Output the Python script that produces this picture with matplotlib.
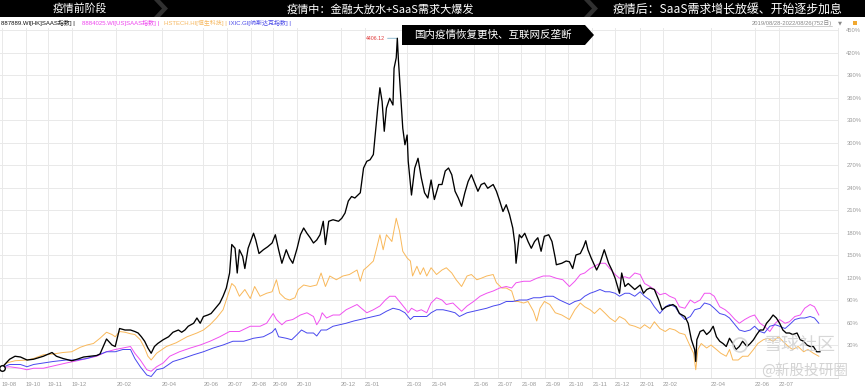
import numpy as np
import matplotlib
matplotlib.use('Agg')
import matplotlib.pyplot as plt
from matplotlib.patches import Polygon, Rectangle, Circle

plt.rcParams['font.family'] = ['Liberation Sans', 'Noto Sans CJK SC', 'DejaVu Sans']

# ---------------- data ----------------
tick_labels = ['19-08', '19-10', '19-11', '19-12', '20-02', '20-04', '20-06', '20-07', '20-08',
               '20-09', '20-10', '20-12', '21-01', '21-03', '21-04', '21-06', '21-07', '21-08',
               '21-09', '21-10', '21-11', '21-12', '22-01', '22-02', '22-04', '22-06', '22-07']
tick_days = [0, 22, 42, 64, 105, 147, 185, 207, 229, 249, 271, 311, 333, 372, 395, 433, 455, 477,
             499, 520, 542, 563, 586, 607, 651, 691, 713]
pct_ticks = [30, 60, 90, 120, 150, 180, 210, 240, 270, 300, 330, 360, 390, 420, 450]

series_names = ['887889.WI[HK]SAAS指数]', '8884025.WI[US]SAAS指数]', 'HSTECH.HI[恒生科技]', 'IXIC.GI[纳斯达克指数]']

black_day = [0, 7, 12, 17, 23, 29, 38, 46, 50, 56,
             64, 69, 75, 81, 87, 90, 96, 101, 104, 108,
             113, 118, 122, 125, 128, 131, 134, 137, 140, 143,
             148, 153, 157, 162, 165, 168, 171, 176, 179, 182,
             185, 189, 192, 196, 200, 203, 206, 209, 211, 214,
             216, 218, 221, 223, 226, 231, 233, 236, 240, 244,
             248, 251, 254, 257,
             261, 264, 267, 271, 274, 277, 280, 283, 286, 289,
             292, 295, 297, 300, 304, 309, 312, 315, 318, 321,
             324, 329, 332, 335, 338, 341, 343, 345, 347, 349,
             351, 353, 356, 359, 360, 362, 363, 364, 366, 368,
             370, 372, 373, 376, 379, 382, 385, 388, 391, 394,
             397, 401, 404, 407, 410, 413, 416, 419, 422, 425,
             428, 431, 434, 437, 440, 443, 446, 451, 454, 457,
             460, 463, 466, 469, 471, 472, 475, 477, 480, 483,
             486, 489, 492, 495, 498, 502, 505, 508, 509, 514,
             518, 521, 524, 527, 531, 534, 536, 538, 541, 546,
             549, 553, 557, 560, 563, 567, 569, 572, 575, 578,
             581, 586, 589, 592, 595, 599, 603, 606, 610, 616,
             619, 622, 627, 630, 633, 636, 637, 638, 641, 644,
             647, 650, 653, 656, 659, 662, 665, 668, 671, 674,
             677, 680, 684, 687, 690, 693, 696, 699, 702, 705,
             708, 711, 714, 717, 720, 723, 726, 730, 733, 736,
             739, 742, 745, 748, 751]
black_pct = [0, 11, 15, 14, 10, 11, 15, 20, 15, 12,
             9, 11, 14, 15, 16, 18, 38, 30, 28, 52,
             50, 50, 48, 46, 41, 35, 26, 19, 28, 32,
             37, 41, 47, 50, 47, 50, 55, 59, 66, 59,
             68, 70, 72, 79, 86, 95, 106, 126, 164, 159,
             126, 157, 148, 132, 159, 179, 170, 152, 157, 161,
             166, 177, 157, 139,
             157, 146, 139, 159, 177, 186, 179, 173, 166, 170,
             177, 195, 164, 195, 197, 195, 199, 206, 222, 228,
             226, 233, 266, 275, 277, 284, 315, 346, 373, 355,
             315, 346, 359, 350, 399, 413, 439, 410, 364, 319,
             297, 310, 275, 230, 266, 279, 253, 233, 226, 250,
             224, 244, 244, 262, 266, 257, 235, 226, 215, 233,
             248, 257, 246, 235, 244, 246, 239, 244, 235, 222,
             208, 217, 204, 186, 164, 139, 177, 173, 179, 168,
             159, 168, 173, 155, 175, 177, 168, 146, 137, 139,
             142, 141, 132, 150, 152, 161, 169, 157, 146, 130,
             139, 157, 139, 130, 119, 99, 126, 108, 112, 108,
             104, 110, 99, 104, 106, 104, 90, 77, 81, 84,
             81, 72, 68, 59, 37, 24, 8, 37, 48, 50,
             44, 48, 55, 41, 35, 32, 28, 39, 32, 24,
             28, 35, 28, 32, 37, 44, 50, 50, 59, 64,
             70, 66, 59, 50, 46, 46, 44, 46, 37, 35,
             30, 28, 28, 21, 21]

orange_day = [0, 4, 12, 23, 29, 38, 47, 56, 64, 72,
              78, 84, 90, 96, 101, 104, 108, 113, 118, 122,
              127, 131, 134, 137, 142, 151, 160, 170, 179, 185,
              191, 197, 203, 208, 211, 214, 218, 223, 228, 232,
              237, 243, 248, 252, 255, 260,
              264, 269, 272, 277, 283, 289, 293, 297, 301, 307,
              313, 319, 326, 329, 332, 336, 341, 344, 347, 350,
              353, 358, 362, 365, 368, 372, 375, 377, 381, 384,
              387, 390, 394, 399, 404, 408, 413, 417, 422, 427,
              431, 436, 440, 445, 451, 454, 459, 463, 468, 471,
              474, 479, 483, 488, 491, 494, 498, 503, 508, 514,
              521, 526, 531, 535, 540, 544, 549, 554, 558, 563,
              567, 572, 576, 581, 586, 590, 595, 599, 604, 609,
              613, 618, 622, 627, 632, 635, 637, 639, 642, 647,
              651, 656, 660, 665, 668, 671, 676, 680, 685, 690,
              694, 699, 703, 708, 713, 717, 722, 726, 731, 736,
              740, 745, 750]
orange_pct = [0, 6, 9, 10, 12, 17, 18, 20, 21, 27,
              30, 32, 39, 47, 44, 41, 48, 47, 45, 44,
              37, 26, 15, 10, 19, 28, 33, 41, 46, 50,
              57, 66, 77, 99, 112, 108, 95, 104, 92, 108,
              95, 99, 101, 117, 99, 92,
              90, 93, 104, 110, 108, 110, 126, 108, 122, 117,
              122, 124, 130, 115, 130, 135, 142, 159, 177, 157,
              177, 168, 199, 182, 155, 146, 142, 122, 135, 124,
              133, 122, 133, 124, 130, 133, 126, 117, 108, 122,
              124, 117, 119, 122, 124, 113, 106, 106, 102, 88,
              88, 86, 88, 75, 62, 79, 88, 84, 73, 70,
              64, 77, 86, 81, 77, 72, 79, 72, 66, 61,
              68, 64, 57, 55, 52, 57, 52, 61, 52, 48,
              52, 50, 46, 44, 28, 19, -3, 24, 32, 26,
              30, 24, 19, 15, 24, 10, 10, 15, 15, 24,
              32, 37, 39, 35, 41, 35, 28, 24, 28, 21,
              24, 19, 15]

magenta_day = [0, 7, 17, 23, 29, 38, 47, 59, 69, 78,
               87, 96, 104, 111, 118, 122, 127, 133, 137, 142,
               148, 154, 163, 173, 182, 191, 200, 209, 218, 228,
               237, 243, 249, 252, 257,
               261, 267, 274, 280, 286, 289, 292, 294, 298, 304,
               310, 316, 323, 326, 330, 335, 341, 347, 352, 356,
               361, 365, 370, 373, 376, 381, 385, 390, 394, 399,
               404, 408, 414, 419, 422, 427, 433, 439, 445, 451,
               457, 463, 468, 472, 479, 485, 491, 497, 503, 509,
               515,
               521, 526, 531, 535, 540, 544, 549, 554, 558, 563,
               567, 572, 576, 581, 586, 590, 595, 599, 604, 609,
               613, 618, 622, 627, 632, 636, 641, 645, 650, 654,
               659, 664, 668, 673, 677, 682, 687, 691, 696, 700,
               705, 710, 714, 719, 723, 728, 733, 737, 742, 746,
               750]
magenta_pct = [0, 1, -1, -3, -1, -1, 2, 6, 9, 12,
               15, 21, 24, 26, 28, 19, 10, -3, -5, 1,
               6, 15, 21, 26, 30, 35, 41, 48, 48, 55,
               55, 59, 72, 64, 57,
               62, 64, 70, 73, 68, 57, 64, 73, 66, 70,
               70, 77, 82, 84, 79, 73, 77, 82, 90, 95,
               95, 88, 79, 73, 79, 75, 77, 73, 86, 93,
               90, 84, 86, 79, 75, 82, 88, 95, 99, 102,
               106, 108, 106, 113, 115, 115, 119, 122, 122, 119,
               117,
               108, 115, 124, 126, 132, 135, 139, 139, 132, 124,
               119, 121, 119, 126, 124, 112, 108, 104, 97, 99,
               95, 92, 81, 79, 90, 86, 90, 99, 99, 95,
               81, 77, 72, 64, 59, 64, 68, 70, 59, 55,
               48, 59, 64, 59, 61, 68, 70, 79, 84, 81,
               70]

blue_day = [0, 7, 17, 23, 29, 38, 47, 59, 69, 78,
            87, 96, 104, 111, 118, 122, 127, 133, 137, 142,
            148, 157, 166, 176, 185, 194, 203, 212, 222, 231,
            240, 248, 251, 254,
            261, 266, 271, 275, 280, 286, 289, 293, 298, 304,
            310, 316, 323, 329, 335, 341, 347, 353, 359, 365,
            370, 375, 378, 384, 390, 394, 399, 405, 411, 416,
            420, 427, 433, 439, 445, 451, 457, 463, 469, 475,
            482, 488, 494, 500, 506, 512, 518,
            521, 526, 531, 535, 540, 544, 549, 554, 558, 563,
            567, 572, 576, 581, 586, 590, 595, 599, 604, 609,
            613, 618, 622, 627, 632, 636, 641, 645, 650, 654,
            659, 664, 668, 673, 677, 682, 687, 691, 696, 700,
            705, 710, 714, 719, 723, 728, 733, 737, 742, 746,
            750]
blue_pct = [0, 4, 4, 1, 4, 6, 8, 10, 10, 12,
            16, 21, 21, 24, 24, 12, 1, -10, -12, -3,
            -1, 8, 12, 17, 21, 26, 30, 35, 35, 39,
            41, 47, 52, 41,
            39, 37, 44, 50, 46, 46, 42, 50, 50, 55,
            57, 59, 62, 64, 66, 68, 70, 75, 79, 77,
            73, 64, 68, 68, 68, 73, 77, 77, 75, 73,
            68, 73, 75, 77, 79, 82, 84, 88, 88, 90,
            90, 93, 93, 95, 95, 90, 86,
            84, 88, 90, 95, 99, 101, 104, 101, 101, 99,
            95, 99, 99, 95, 101, 95, 90, 81, 72, 81,
            84, 81, 72, 64, 68, 77, 79, 86, 84, 79,
            72, 70, 66, 57, 50, 48, 50, 55, 48, 46,
            55, 57, 55, 52, 57, 64, 66, 66, 68, 66,
            59]

peak_label = '4406.12'
date_range = '2019/08/28-2022/08/26(752日)'
phase_titles = ['疫情前阶段', '疫情中：金融大放水+SaaS需求大爆发', '疫情后：SaaS需求增长放缓、开始逐步加息']
note_text = '国内疫情恢复更快、互联网反垄断'

# ---------------- figure ----------------
W, H = 865, 392
fig = plt.figure(figsize=(W / 100, H / 100), dpi=100)
fig.patch.set_facecolor('white')

ax_top, ax_bot, ax_right = 28, 378, 838
ax = fig.add_axes([0, 1 - ax_bot / H, ax_right / W, (ax_bot - ax_top) / H])
ax.set_xlim(-1.8, 767.6)
ax.set_ylim(-14, 452.7)

grid_c = '#e9e9e9'
for d in tick_days:
    ax.axvline(d, color=grid_c, lw=0.7, zorder=0)
for p in [0] + pct_ticks:
    ax.axhline(p, color=grid_c, lw=0.7, zorder=0)

ax.plot(orange_day, orange_pct, color='#f9b85a', lw=0.7, zorder=2)
ax.plot(magenta_day, magenta_pct, color='#f050f0', lw=0.7, zorder=3)
ax.plot(blue_day, blue_pct, color='#4848ee', lw=0.7, zorder=3)
ax.plot(black_day, black_pct, color='#000000', lw=0.95, zorder=4)
ax.plot([black_day[0]], [black_pct[0]], marker='o', ms=4, mfc='white', mec='black', mew=1.0, zorder=5)

# peak annotation
pk = int(np.argmax(black_pct))
ax.annotate(peak_label, xy=(black_day[pk], black_pct[pk]), xytext=(-9, 0), textcoords='offset points',
            ha='right', va='center', fontsize=3.8, color='#e03a3a',
            arrowprops=dict(arrowstyle='-', color='#7fb0c8', lw=0.6, shrinkA=0, shrinkB=0))

ax.set_xticks(tick_days)
ax.set_xticklabels(tick_labels)
for lab in ax.get_xticklabels():
    lab.set_ha('left')
ax.tick_params(axis='x', length=0, pad=3, labelsize=4.2, labelcolor='#9a9a9a')
ax.yaxis.tick_right()
ax.set_yticks(pct_ticks)
ax.set_yticklabels([f'{p}%' for p in pct_ticks])
ax.tick_params(axis='y', length=0, pad=6, labelsize=4.2, labelcolor='#9a9a9a')
for s in ['top', 'left']:
    ax.spines[s].set_visible(False)
ax.spines['bottom'].set_color('#d8d8d8')
ax.spines['right'].set_color('#e9e9e9')
ax.spines['bottom'].set_linewidth(0.7)
ax.spines['right'].set_linewidth(0.7)

# ---------------- overlay (pixel coordinates) ----------------
ov = fig.add_axes([0, 0, 1, 1], zorder=10)
ov.set_xlim(0, W)
ov.set_ylim(H, 0)
ov.axis('off')
ov.patch.set_visible(False)

ov.add_patch(Rectangle((0, 0), W, 17, facecolor='#303030', edgecolor='none'))
segs = [
    [(0, 0), (154, 0), (162, 8.5), (154, 17), (0, 17)],
    [(160, 0), (584, 0), (592, 8.5), (584, 17), (160, 17), (168, 8.5)],
    [(590, 0), (W, 0), (W, 17), (590, 17), (598, 8.5)],
]
for s in segs:
    ov.add_patch(Polygon(s, closed=True, facecolor='black', edgecolor='none'))
cjk = ['Noto Sans CJK SC', 'DejaVu Sans']
ov.text(80, 8.8, phase_titles[0], color='white', fontsize=7.8, ha='center', va='center', family=cjk, weight='medium')
ov.text(380, 8.8, phase_titles[1], color='white', fontsize=8.0, ha='center', va='center', family=cjk, weight='medium')
ov.text(728, 8.8, phase_titles[2], color='white', fontsize=8.6, ha='center', va='center', family=cjk, weight='medium')

# legend row
leg_colors = ['#111111', '#ee44ee', '#f6b860', '#4a4ae8']
leg_x = [1, 82, 164, 229]
for name, c, x in zip(series_names, leg_colors, leg_x):
    ov.text(x, 23, name + ' | ', color=c, fontsize=4.3, ha='left', va='center')
ov.text(832, 23, date_range, color='#888888', fontsize=4.2, ha='right', va='center')
ov.plot([766, 832], [26, 26], color='#aaaaaa', lw=0.4)
ov.text(838, 23, '▼', color='#888888', fontsize=3.8, ha='left', va='center', family=['DejaVu Sans'])
ov.add_patch(Rectangle((853, 20.5), 4, 4, facecolor='#f0a830', edgecolor='none'))

# note box
ov.add_patch(Polygon([(402, 25), (585, 25), (594, 35), (585, 45), (402, 45)], closed=True,
                     facecolor='black', edgecolor='none'))
ov.text(493, 35.3, note_text, color='white', fontsize=7.6, ha='center', va='center', family=cjk, weight='medium')

# watermarks
ov.add_patch(Circle((740, 345), 7, facecolor='none', edgecolor='#d4d4d4', lw=1.2, alpha=0.9))
ov.text(800, 345, '雪球社区', color='#d0d0d0', fontsize=13, ha='center', va='center', family=cjk, alpha=0.85)
ov.text(805, 371, '@新股投研圈', color='#cfcfcf', fontsize=10.5, ha='center', va='center', family=cjk, alpha=0.9)

fig.savefig('out.png', dpi=100, facecolor='white')
